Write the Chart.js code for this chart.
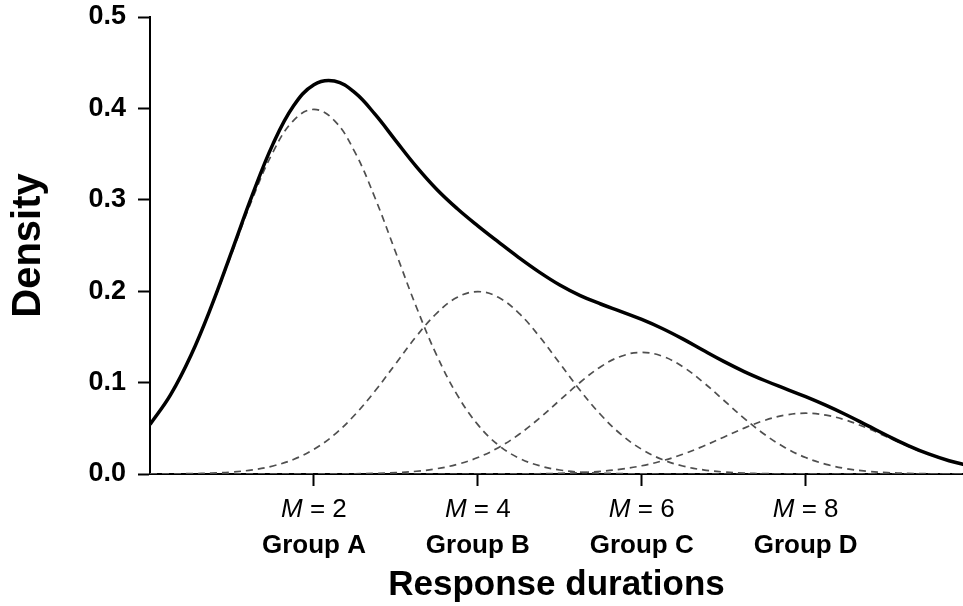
<!DOCTYPE html>
<html>
<head>
<meta charset="utf-8">
<script src="https://cdn.jsdelivr.net/npm/chart.js@4/dist/chart.umd.min.js"></script>
<style>
  html, body { margin: 0; padding: 0; background: #fff; }
  #wrap { width: 963px; height: 606px; position: relative; }
</style>
</head>
<body>
<div id="wrap"><canvas id="grafico"></canvas></div>
<script>
// x positions (response duration) and densities
const xValues = [0, 0.25, 0.5, 0.75, 1, 1.25, 1.5, 1.75, 2, 2.25, 2.5, 2.75, 3, 3.25, 3.5, 3.75, 4, 4.25, 4.5, 4.75, 5,
  5.25, 5.5, 5.75, 6, 6.25, 6.5, 6.75, 7, 7.25, 7.5, 7.75, 8, 8.25, 8.5, 8.75, 9, 9.25, 9.5, 9.75, 10];

const totalDensity = [0.0541, 0.0865, 0.1299, 0.1837, 0.2442, 0.3056, 0.3609, 0.4026, 0.4259, 0.4299, 0.4172, 0.3931, 0.3645, 0.3363, 0.3113, 0.2902, 0.2715, 0.2539, 0.2368, 0.2209, 0.2068,
  0.1952, 0.1860, 0.1777, 0.1691, 0.1592, 0.1478, 0.1353, 0.1232, 0.1121, 0.1023, 0.0934, 0.0846, 0.0750, 0.0645, 0.0532, 0.0418, 0.0311, 0.0219, 0.0145, 0.0090];
const groupA = [0.0540, 0.0863, 0.1295, 0.1827, 0.2420, 0.3011, 0.3521, 0.3867, 0.3989, 0.3867, 0.3521, 0.3011, 0.2420, 0.1827, 0.1295, 0.0863, 0.0540, 0.0317, 0.0175, 0.0091, 0.0044,
  0.0020, 0.0009, 0.0004, 0.0001, 0, 0, 0, 0, 0, 0, 0, 0, 0, 0, 0, 0, 0, 0, 0, 0];
const groupB = [0.0001, 0.0002, 0.0004, 0.0010, 0.0022, 0.0045, 0.0088, 0.0159, 0.0270, 0.0431, 0.0648, 0.0913, 0.1210, 0.1506, 0.1760, 0.1933, 0.1995, 0.1933, 0.1760, 0.1506, 0.1210,
  0.0913, 0.0648, 0.0431, 0.0270, 0.0159, 0.0088, 0.0045, 0.0022, 0.0010, 0.0004, 0.0002, 0.0001, 0, 0, 0, 0, 0, 0, 0, 0];
const groupC = [0, 0, 0, 0, 0, 0, 0, 0, 0, 0.0001, 0.0003, 0.0007, 0.0015, 0.0030, 0.0058, 0.0106, 0.0180, 0.0288, 0.0432, 0.0609, 0.0807,
  0.1004, 0.1174, 0.1289, 0.1330, 0.1289, 0.1174, 0.1004, 0.0807, 0.0609, 0.0432, 0.0288, 0.0180, 0.0106, 0.0058, 0.0030, 0.0015, 0.0007, 0.0003, 0.0001, 0];
const groupD = [0, 0, 0, 0, 0, 0, 0, 0, 0, 0, 0, 0, 0, 0, 0, 0, 0, 0.0001, 0.0001, 0.0003, 0.0007,
  0.0015, 0.0029, 0.0053, 0.0090, 0.0144, 0.0216, 0.0304, 0.0403, 0.0502, 0.0587, 0.0644, 0.0665, 0.0644, 0.0587, 0.0502, 0.0403, 0.0304, 0.0216, 0.0144, 0.0090];

const xTickValues = [2, 4, 6, 8];
const meanLabels = ['2', '4', '6', '8'];
const groupLabels = ['Group A', 'Group B', 'Group C', 'Group D'];
const yTickValues = [0, 0.1, 0.2, 0.3, 0.4, 0.5];

const FONTE = '"Liberation Sans", Arial, Helvetica, sans-serif';

function pontos(serie) {
  return xValues.map((x, i) => ({ x: x, y: serie[i] }));
}

function tracejada(serie, nome) {
  return {
    label: nome,
    data: pontos(serie),
    borderColor: '#4f4f4f',
    borderWidth: 1.7,
    borderDash: [7, 5],
    pointRadius: 0,
    tension: 0.4,
    fill: false
  };
}

// labels under the x axis: "M = 2" (italic M) and "Group A" in bold
const rotulosX = {
  id: 'rotulosX',
  afterDraw(chart) {
    const ctx = chart.ctx;
    const escala = chart.scales.x;
    ctx.save();
    ctx.fillStyle = '#000';
    ctx.textBaseline = 'alphabetic';
    xTickValues.forEach((v, i) => {
      const px = escala.getPixelForValue(v);
      const italico = 'italic 26px ' + FONTE;
      const normal = '26px ' + FONTE;
      ctx.font = italico;
      const wM = ctx.measureText('M').width;
      ctx.font = normal;
      const resto = ' = ' + meanLabels[i];
      const wR = ctx.measureText(resto).width;
      const x0 = px - (wM + wR) / 2;
      ctx.textAlign = 'left';
      ctx.font = italico;
      ctx.fillText('M', x0, 517);
      ctx.font = normal;
      ctx.fillText(resto, x0 + wM, 517);
      ctx.font = 'bold 26px ' + FONTE;
      ctx.textAlign = 'center';
      ctx.fillText(groupLabels[i], px, 553);
    });
    ctx.restore();
  }
};

window.addEventListener('DOMContentLoaded', function () {
  const ctx = document.getElementById('grafico').getContext('2d');
  new Chart(ctx, {
    type: 'line',
    data: {
      datasets: [
        {
          label: 'Density',
          data: pontos(totalDensity),
          borderColor: '#000',
          borderWidth: 3.5,
          pointRadius: 0,
          tension: 0.4,
          fill: false
        },
        tracejada(groupA, 'Group A'),
        tracejada(groupB, 'Group B'),
        tracejada(groupC, 'Group C'),
        tracejada(groupD, 'Group D')
      ]
    },
    options: {
      responsive: true,
      maintainAspectRatio: false,
      animation: false,
      layout: { padding: { top: 17, right: 0, left: 0, bottom: 0 } },
      plugins: {
        legend: { display: false },
        tooltip: { enabled: false }
      },
      scales: {
        x: {
          type: 'linear',
          min: 0,
          max: 9.92,
          afterBuildTicks: (scale) => { scale.ticks = xTickValues.map(v => ({ value: v })); },
          afterFit: (scale) => { scale.height = 132; scale.paddingLeft = 0; scale.paddingRight = 0; },
          ticks: { display: false },
          grid: { drawOnChartArea: false, drawTicks: true, tickLength: 12, tickWidth: 2, tickColor: '#000' },
          border: { display: true, color: '#000', width: 2 },
          title: {
            display: true,
            text: 'Response durations',
            color: '#000',
            font: { family: FONTE, size: 35, weight: 'bold', lineHeight: 1 },
            padding: { top: 0, bottom: 3 }
          }
        },
        y: {
          min: 0,
          max: 0.5,
          afterBuildTicks: (scale) => { scale.ticks = yTickValues.map(v => ({ value: v })); },
          afterFit: (scale) => { scale.width = 150; scale.paddingTop = 0; scale.paddingBottom = 0; },
          ticks: {
            color: '#000',
            padding: 12,
            font: { family: FONTE, size: 27, weight: 'bold' },
            callback: (v) => Number(v).toFixed(1)
          },
          grid: { drawOnChartArea: false, drawTicks: true, tickLength: 12, tickWidth: 2, tickColor: '#000' },
          border: { display: true, color: '#000', width: 2 },
          title: {
            display: true,
            text: 'Density',
            color: '#000',
            font: { family: FONTE, size: 40, weight: 'bold', lineHeight: 1 },
            padding: { top: 9, bottom: 0 }
          }
        }
      }
    },
    plugins: [rotulosX]
  });
});
</script>
</body>
</html>
